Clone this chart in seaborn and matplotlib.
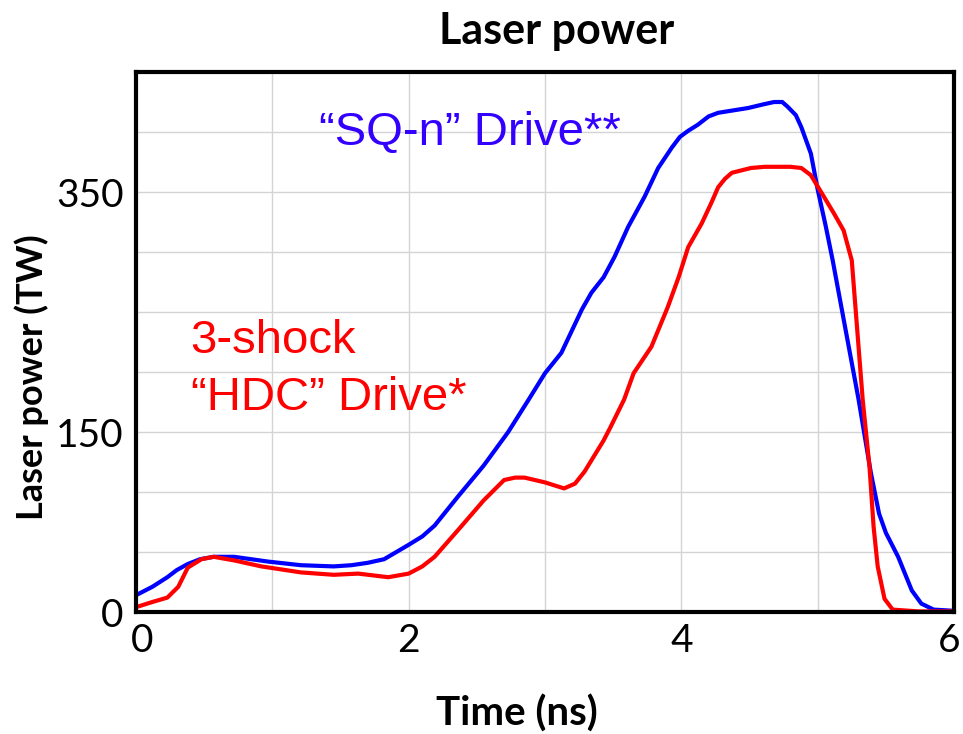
import matplotlib
matplotlib.use("Agg")
import matplotlib.pyplot as plt
import matplotlib.transforms as mtransforms
import numpy as np
import pandas as pd
import seaborn as sns

# Laser pulse shapes: time (ns) vs. power (TW)
sq_time = [0.00, 0.12, 0.23, 0.30, 0.38, 0.47, 0.57, 0.72, 0.97, 1.21, 1.45, 1.58, 1.70, 1.82,
           1.94, 2.00, 2.10, 2.19, 2.36, 2.55, 2.73, 2.88, 3.00, 3.12, 3.27, 3.34, 3.43,
           3.51, 3.61, 3.73, 3.83, 3.93, 3.99, 4.05, 4.12, 4.20, 4.27, 4.49, 4.60, 4.68, 4.74,
           4.78, 4.84, 4.88, 4.95, 5.00, 5.06, 5.11, 5.20, 5.30, 5.39, 5.45, 5.50, 5.59,
           5.69, 5.76, 5.85, 6.00]
sq_power = [14, 21, 29, 35, 40, 44, 46, 46, 42, 39, 38, 39, 41, 44,
            52, 56, 63, 72, 96, 122, 150, 177, 199, 216, 252, 266, 279,
            296, 321, 346, 370, 387, 396, 401, 406, 413, 416, 420, 423, 425, 425,
            421, 414, 404, 382, 352, 321, 293, 238, 177, 116, 82, 66, 46,
            18, 7, 2, 1]

hdc_time = [0.00, 0.11, 0.23, 0.31, 0.38, 0.48, 0.57, 0.72, 0.92, 1.21, 1.45, 1.63,
            1.85, 2.00, 2.10, 2.19, 2.36, 2.55, 2.70, 2.78, 2.85, 3.00, 3.14, 3.22, 3.29,
            3.43, 3.48, 3.58, 3.65, 3.78, 3.90, 3.98, 4.05, 4.15, 4.22, 4.27, 4.32, 4.37,
            4.51, 4.61, 4.80, 4.88, 4.95, 5.03, 5.12, 5.19, 5.25, 5.29, 5.33, 5.38,
            5.41, 5.44, 5.49, 5.55, 5.74, 6.00]
hdc_power = [4, 8, 12, 21, 37, 44, 46, 43, 38, 33, 31, 32,
             29, 32, 38, 46, 68, 93, 110, 112, 112, 108, 103, 107, 117,
             143, 154, 177, 199, 221, 254, 279, 304, 324, 341, 354, 361, 366,
             370, 371, 371, 370, 364, 349, 332, 318, 293, 235, 177, 121,
             71, 38, 11, 2, 0.5, 0.5]

series_names = ["SQ-n", "HDC"]
series_colors = {"SQ-n": "#0000ff", "HDC": "#ff0000"}

x_ticks = [0, 2, 4, 6]
y_ticks = [0, 150, 350]

df = pd.concat([
    pd.DataFrame({"Time": sq_time, "Power": sq_power, "Drive": "SQ-n"}),
    pd.DataFrame({"Time": hdc_time, "Power": hdc_power, "Drive": "HDC"}),
], ignore_index=True)

sns.set_theme(style="whitegrid")
plt.rcParams["font.family"] = ["Lato", "DejaVu Sans"]

fig = plt.figure(figsize=(9.63, 7.34), dpi=100)
ax = fig.add_axes([0.1412, 0.1662, 0.8495, 0.7357])

sns.lineplot(data=df, x="Time", y="Power", hue="Drive", hue_order=series_names,
             palette=series_colors, linewidth=3.0, legend=False, ax=ax,
             estimator=None, sort=False)
for line in ax.get_lines():
    line.set_solid_joinstyle("round")
    line.set_solid_capstyle("round")

ax.set_xlim(0, 6)
ax.set_ylim(0, 450)
ax.set_xticks(np.arange(0, 6.01, 1))
ax.set_yticks(np.arange(0, 451, 50))
ax.set_xticklabels([str(v) if v in x_ticks else "" for v in range(0, 7)])
ax.set_yticklabels([str(v) if v in y_ticks else "" for v in range(0, 451, 50)])
ax.tick_params(axis="both", length=0, labelsize=28, colors="black")
ax.tick_params(axis="x", pad=8)
ax.tick_params(axis="y", pad=9)

# nudge the end labels of the time axis inward
xlabels = ax.get_xticklabels()
xlabels[0].set_transform(xlabels[0].get_transform() +
                         mtransforms.ScaledTranslation(6 / 100, 0, fig.dpi_scale_trans))
xlabels[-1].set_transform(xlabels[-1].get_transform() +
                          mtransforms.ScaledTranslation(-5 / 100, 0, fig.dpi_scale_trans))

ax.grid(True, color="#d4d4d4", linewidth=1.0)
ax.set_facecolor("white")
for side in ["left", "right", "top", "bottom"]:
    ax.spines[side].set_visible(True)
    ax.spines[side].set_color("black")
    ax.spines[side].set_linewidth(3.0)

ax.set_xlabel("Time (ns)", fontsize=29, fontweight="bold", color="black")
ax.set_ylabel("Laser power (TW)", fontsize=26, fontweight="bold", color="black")
ax.xaxis.set_label_coords(0.466, -0.189)
ax.yaxis.set_label_coords(-0.127, 0.435)
ax.xaxis.label.set_va("center")
ax.yaxis.label.set_va("center")

fig.text(0.578, 0.958, "Laser power", ha="center", va="center",
         fontsize=31, fontweight="bold", color="black")

ann_font = ["Liberation Sans", "DejaVu Sans"]
ax.text(1.34, 389, "\u201cSQ-n\u201d Drive**", color="#3300ff", fontsize=34,
        family=ann_font, va="baseline", ha="left")
ax.text(0.40, 216, "3-shock", color="#ff0000", fontsize=34,
        family=ann_font, va="baseline", ha="left")
ax.text(0.40, 168, "\u201cHDC\u201d Drive*", color="#ff0000", fontsize=34,
        family=ann_font, va="baseline", ha="left")

fig.savefig("out.png", dpi=100, facecolor="white")
